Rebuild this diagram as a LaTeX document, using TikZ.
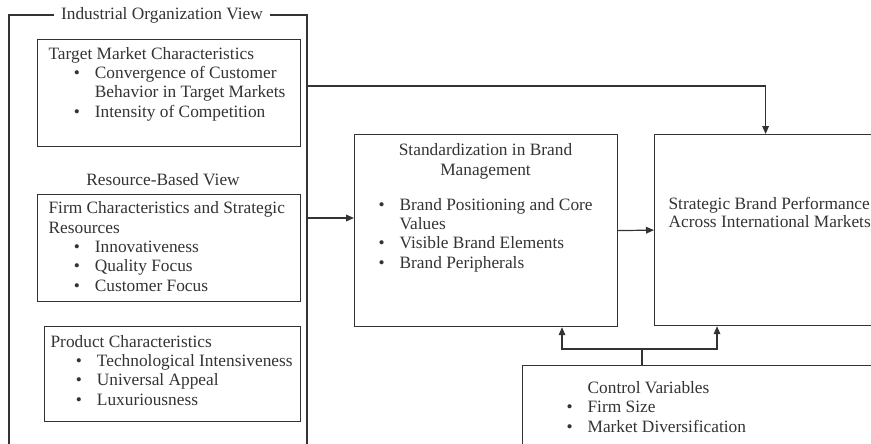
\documentclass[tikz,border=0pt]{standalone}
\usepackage{fontspec}
\setmainfont{Liberation Serif}
\usetikzlibrary{arrows.meta}
\tikzset{
  panel/.style={draw, anchor=north west, inner sep=0pt},
  txt/.style={anchor=base west, inner sep=0pt, align=left},
  arr/.style={-{Triangle[length=6pt,width=5pt]}},
}
\newcommand{\bul}{\makebox[15.75pt][l]{\textbullet}}
\newcommand{\bitem}{\hspace*{19pt}\bul}
\newcommand{\bcont}{\hspace*{34.75pt}}
\begin{document}
\begin{tikzpicture}[x=0.75pt, y=-0.75pt, line width=0.9pt, color=black!80, font=\fontsize{13}{14.5}\selectfont]
  \useasboundingbox (0,0) rectangle (871,443);
  \clip (0,0) rectangle (871,443);
  % industrial organization frame
  \node [fill=white, inner xsep=5pt, inner ysep=2pt] (iov) at (162,15) {Industrial Organization View};
  \draw (iov.west) -| (9,470);
  \draw (iov.east) -| (307,470);
  \coordinate (iov-a) at (307,86);
  \coordinate (iov-b) at (307,218);
  % left boxes (text placed by the baseline of its last line)
  \node [panel, minimum width=197.25pt, minimum height=80.25pt] (tmc) at (37,39) {};
  \node [txt] (tmc-t) at (48,117) {Target Market Characteristics\\\bitem Convergence of Customer\\\bcont Behavior in Target Markets\\\bitem Intensity of Competition};
  \node [txt, anchor=base] (rbv) at (163,185) {Resource-Based View};
  \node [panel, minimum width=197.25pt, minimum height=80.25pt] (frc) at (37,194) {};
  \node [txt] (frc-t) at (48,291) {Firm Characteristics and Strategic\\Resources\\\bitem Innovativeness\\\bitem Quality Focus\\\bitem Customer Focus};
  \node [panel, minimum width=192pt, minimum height=71.25pt] (pc) at (44,326) {};
  \node [txt] (pc-t) at (50,405) {Product Characteristics\\\bitem Technological Intensiveness\\\bitem Universal Appeal\\\bitem Luxuriousness};
  % standardization and performance
  \node [panel, minimum width=197.25pt, minimum height=144pt] (std) at (354,134) {};
  \node [txt, anchor=base, align=center] (std-t) at (485.5,175) {Standardization in Brand\\Management};
  \node [txt] (std-l) at (378,268) {\bul Brand Positioning and Core\\\hspace*{15.75pt}Values\\\bul Visible Brand Elements\\\bul Brand Peripherals};
  \node [panel, minimum width=166.5pt, minimum height=143.25pt] (perf) at (654,134) {};
  \node [txt] (perf-t) at (668,227) {Strategic Brand Performance\\[-1.5pt]Across International Markets};
  % controls
  \node [panel, minimum width=283.5pt, minimum height=78.75pt] (ctrl) at (522,365) {};
  \node [txt] (ctrl-t) at (566,432) {\hspace*{15.75pt}Control Variables\\\bul Firm Size\\\bul Market Diversification};
  % arrows
  \draw [arr] (iov-a) -| (perf.north);
  \draw [arr] (iov-b) -- (iov-b -| std.west);
  \draw [arr] (std.east) -- (perf.west);
  \coordinate (split) at (642,349);
  \coordinate (cl) at (562,349);
  \coordinate (cr) at (717,349);
  \draw (split |- ctrl.north) -- (split);
  \draw [arr] (split) -| (cl |- std.south);
  \draw [arr] (split) -| (cr |- perf.south);
\end{tikzpicture}
\end{document}
